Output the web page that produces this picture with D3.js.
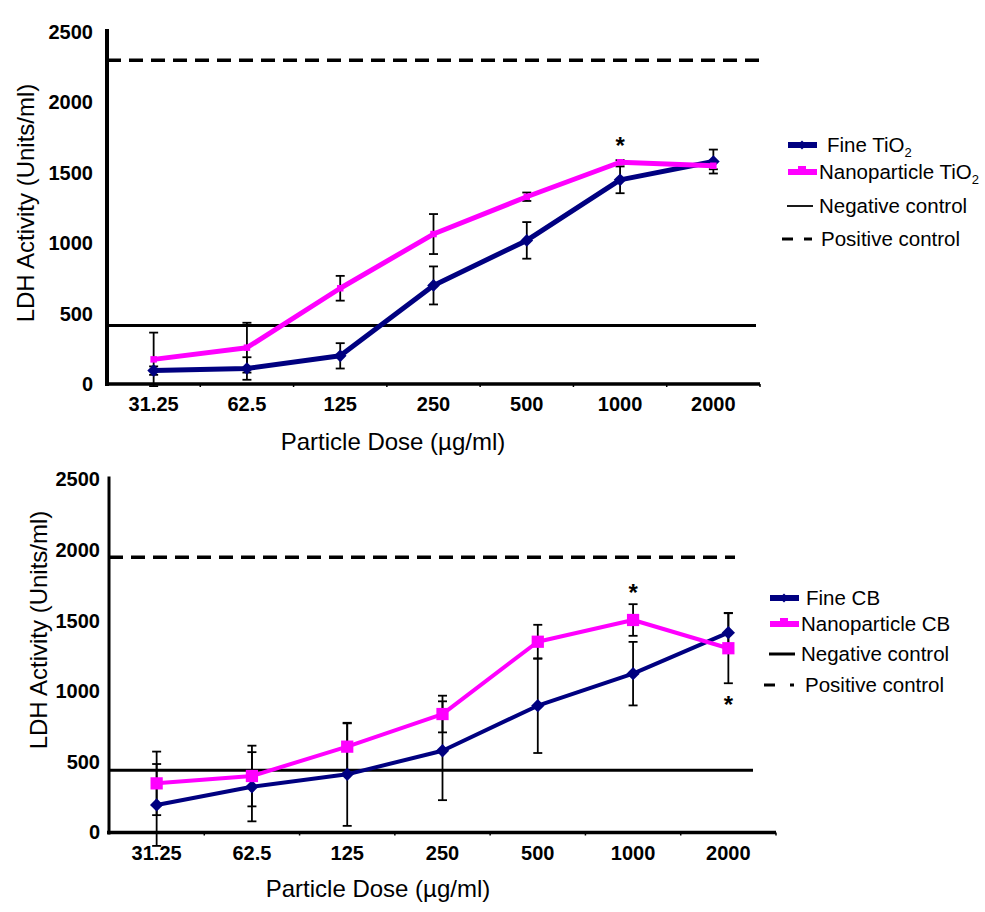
<!DOCTYPE html>
<html>
<head>
<meta charset="utf-8">
<script src="https://cdn.jsdelivr.net/npm/d3@7"></script>
<style>
  body { margin: 0; background: #fff; }
  svg { font-family: "Liberation Sans", Arial, sans-serif; }
</style>
</head>
<body>
<div id="chart"></div>
<script>
// data
var doses = ['31.25', '62.5', '125', '250', '500', '1000', '2000']
var y_ticks = [0, 500, 1000, 1500, 2000, 2500]

var tio2_fine = [95, 110, 200, 700, 1020, 1450, 1580]
var tio2_fine_err = [30, 80, 90, 135, 130, 95, 85]
var tio2_nano = [175, 258, 680, 1065, 1330, 1575, 1550]
var tio2_nano_err = [190, 177, 88, 142, 30, 15, 25]
var tio2_neg = 415, tio2_pos = 2300

var cb_fine = [195, 324, 412, 579, 898, 1125, 1415]
var cb_fine_err = [290, 245, 365, 350, 335, 225, 140]
var cb_nano = [348, 400, 608, 839, 1351, 1505, 1305]
var cb_nano_err = [225, 215, 165, 130, 120, 112, 248]
var cb_neg = 440, cb_pos = 1950

var navy = '#000080', magenta = '#ff00ff'

var svg = d3.select('#chart')
    .append('svg')
    .attr('width', 985)
    .attr('height', 912)

var draw_panel = (p) => {
    var g = svg.append('g')
    var x = d3.scaleBand().domain(doses).range(p.xr)
    var y = d3.scaleLinear().domain([0, 2500]).range(p.yr)
    var cx = d => x(d) + x.bandwidth() / 2

    // control lines
    g.append('line')
        .attr('x1', p.xr[0]).attr('x2', p.neg_end)
        .attr('y1', y(p.neg)).attr('y2', y(p.neg))
        .attr('stroke', '#000').attr('stroke-width', 3)
    g.append('line')
        .attr('x1', p.xr[0]).attr('x2', p.pos_end)
        .attr('y1', y(p.pos)).attr('y2', y(p.pos))
        .attr('stroke', '#000').attr('stroke-width', 3.5)
        .attr('stroke-dasharray', '14,8')

    // axes
    var ya = g.append('g')
        .attr('transform', `translate(${p.xr[0]},0)`)
        .call(d3.axisLeft(y).tickValues(y_ticks).tickFormat(d3.format('d')).tickSize(0).tickPadding(p.ypad))
    ya.select('.domain').attr('stroke-width', p.axis_w).attr('d', `M0,${p.yr[0] + 2}V${p.yr[1] - 3}`)
    ya.selectAll('text').attr('font-size', 20).attr('font-weight', 'bold')
        .attr('font-family', '"Liberation Sans", Arial, sans-serif').attr('fill', '#000')

    var xa = g.append('g')
        .attr('transform', `translate(0,${p.yr[0]})`)
        .call(d3.axisBottom(x).tickSize(0).tickPadding(13))
    xa.select('.domain').attr('stroke-width', 3.5).attr('d', `M${p.xr[0] - 2},0H${p.xr[1]}`)
    xa.selectAll('text').attr('font-size', 20).attr('font-weight', 'bold')
        .attr('font-family', '"Liberation Sans", Arial, sans-serif').attr('fill', '#000')
    // small ticks between categories
    g.selectAll('.xtick')
        .data(d3.range(1, doses.length + 1))
        .enter()
        .append('line')
        .attr('x1', i => p.xr[0] + i * x.step()).attr('x2', i => p.xr[0] + i * x.step())
        .attr('y1', p.yr[0]).attr('y2', p.yr[0] + 3)
        .attr('stroke', '#000').attr('stroke-width', 1.5)

    // error bars
    var series = [
        { vals: p.fine, err: p.fine_err, color: navy, marker: 'diamond', w: p.line_w },
        { vals: p.nano, err: p.nano_err, color: magenta, marker: 'square', w: p.line_w }
    ]
    series.forEach(s => {
        var eb = g.append('g').attr('stroke', '#000').attr('stroke-width', 1.8)
        s.vals.forEach((v, i) => {
            var xx = cx(doses[i])
            var top = y(v + s.err[i]), bot = y(v - s.err[i])
            eb.append('line').attr('x1', xx).attr('x2', xx).attr('y1', top).attr('y2', bot)
            eb.append('line').attr('x1', xx - 4.5).attr('x2', xx + 4.5).attr('y1', top).attr('y2', top)
            eb.append('line').attr('x1', xx - 4.5).attr('x2', xx + 4.5).attr('y1', bot).attr('y2', bot)
        })
    })

    // lines + markers
    series.forEach(s => {
        var line = d3.line().x((d, i) => cx(doses[i])).y(d => y(d))
        g.append('path')
            .datum(s.vals)
            .attr('d', line)
            .attr('fill', 'none')
            .attr('stroke', s.color)
            .attr('stroke-width', s.w)
            .attr('stroke-linejoin', 'round')
        g.selectAll(null)
            .data(s.vals)
            .enter()
            .append('path')
            .attr('d', d3.symbol().type(d3.symbolSquare).size(s.marker == 'diamond' ? p.dia_size : p.sq_size))
            .attr('transform', (d, i) => `translate(${cx(doses[i])},${y(d)})` + (s.marker == 'diamond' ? ' rotate(45)' : ''))
            .attr('fill', s.color)
    })

    // significance stars
    p.stars.forEach(st => {
        g.append('text')
            .attr('x', cx(st.dose))
            .attr('y', y(st.val) + st.dy)
            .attr('text-anchor', 'middle')
            .attr('font-size', 24)
            .attr('font-weight', 'bold')
            .text('*')
    })

    // axis titles
    g.append('text')
        .attr('transform', `translate(${p.ylab[0]},${p.ylab[1]}) rotate(-90)`)
        .attr('text-anchor', 'middle')
        .attr('font-size', 24)
        .text('LDH Activity (Units/ml)')
    g.append('text')
        .attr('x', p.xlab[0]).attr('y', p.xlab[1])
        .attr('text-anchor', 'middle')
        .attr('font-size', 24)
        .text('Particle Dose (\u00b5g/ml)')

    // legend
    var lg = p.legend
    var leg = g.append('g').attr('font-size', 20.5)
    // fine
    leg.append('line').attr('x1', lg.x0).attr('x2', lg.x0 + 29).attr('y1', lg.ys[0]).attr('y2', lg.ys[0])
        .attr('stroke', navy).attr('stroke-width', 6)
    leg.append('path').attr('d', d3.symbol().type(d3.symbolSquare).size(40))
        .attr('transform', `translate(${lg.x0 + 14},${lg.ys[0]}) rotate(45)`).attr('fill', navy)
    // nano
    leg.append('line').attr('x1', lg.x0).attr('x2', lg.x0 + 29).attr('y1', lg.ys[1]).attr('y2', lg.ys[1])
        .attr('stroke', magenta).attr('stroke-width', 6)
    leg.append('rect').attr('x', lg.x0 + 10).attr('y', lg.ys[1] - 6).attr('width', 8).attr('height', 6)
        .attr('fill', magenta)
    // negative
    leg.append('line').attr('x1', lg.x0 - 1).attr('x2', lg.x0 + 25).attr('y1', lg.ys[2]).attr('y2', lg.ys[2])
        .attr('stroke', '#000').attr('stroke-width', p.neg_leg_w)
    // positive
    leg.append('line').attr('x1', lg.x0 - 6).attr('x2', lg.x0 + 5).attr('y1', lg.ys[3]).attr('y2', lg.ys[3])
        .attr('stroke', '#000').attr('stroke-width', 3)
    leg.append('line').attr('x1', lg.x0 + p.pos_dot[0]).attr('x2', lg.x0 + p.pos_dot[1]).attr('y1', lg.ys[3]).attr('y2', lg.ys[3])
        .attr('stroke', '#000').attr('stroke-width', 3)

    lg.labels.forEach((t, i) => {
        var tx = leg.append('text').attr('x', lg.tx[i]).attr('y', lg.ys[i] + 7)
        tx.append('tspan').text(t[0])
        if (t[1]) tx.append('tspan').attr('font-size', 13).attr('dy', 5).text(t[1])
    })
}

draw_panel({
    xr: [107, 760], yr: [384, 32], ypad: 14, axis_w: 4, line_w: 5,
    dia_size: 80, sq_size: 42,
    fine: tio2_fine, fine_err: tio2_fine_err, nano: tio2_nano, nano_err: tio2_nano_err,
    neg: tio2_neg, pos: tio2_pos, neg_end: 756, pos_end: 767,
    stars: [{ dose: '1000', val: 1590, dy: -6 }],
    ylab: [34, 203], xlab: [393, 450],
    legend: {
        x0: 788, ys: [145, 172, 206, 239], tx: [827, 819, 819, 821],
        labels: [['Fine TiO', '2'], ['Nanoparticle TiO', '2'], ['Negative control'], ['Positive control']]
    },
    neg_leg_w: 1.8, pos_dot: [16, 24]
})

draw_panel({
    xr: [109, 776], yr: [832.5, 479.5], ypad: 9, axis_w: 3, line_w: 4,
    dia_size: 88, sq_size: 150,
    fine: cb_fine, fine_err: cb_fine_err, nano: cb_nano, nano_err: cb_nano_err,
    neg: cb_neg, pos: cb_pos, neg_end: 753, pos_end: 735,
    stars: [{ dose: '1000', val: 1617, dy: -3 }, { dose: '2000', val: 1057, dy: 30 }],
    ylab: [47, 630], xlab: [378, 897],
    legend: {
        x0: 770, ys: [598, 624, 654, 685], tx: [806, 801, 801, 805],
        labels: [['Fine CB'], ['Nanoparticle CB'], ['Negative control'], ['Positive control']]
    },
    neg_leg_w: 3, pos_dot: [20, 24]
})
</script>
</body>
</html>
